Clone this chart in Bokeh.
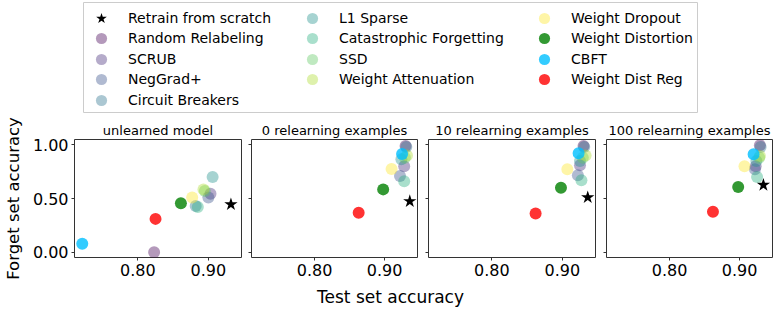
from bokeh.plotting import figure
from bokeh.models import Range1d, FixedTicker, Legend, LegendItem, PrintfTickFormatter
from bokeh.layouts import column, row
from bokeh.embed import file_html
from bokeh.resources import INLINE
from bokeh.palettes import Viridis256

# ---------------- data ----------------
methods = ["Retrain from scratch", "Random Relabeling", "SCRUB", "NegGrad+", "Circuit Breakers",
           "L1 Sparse", "Catastrophic Forgetting", "SSD", "Weight Attenuation", "Weight Dropout",
           "Weight Distortion", "CBFT", "Weight Dist Reg"]

panel_titles = ["unlearned model", "0 relearning examples", "10 relearning examples", "100 relearning examples"]

unlearned_x = [0.932, 0.823, 0.903, 0.900, 0.882, 0.906, 0.885, 0.895, 0.893, 0.877, 0.861, 0.721, 0.825]
unlearned_y = [0.445, 0.00, 0.545, 0.51, 0.43, 0.70, 0.42, 0.57, 0.585, 0.51, 0.455, 0.078, 0.31]

relearn0_x = [0.936, 0.930, 0.928, 0.922, 0.931, 0.924, 0.928, 0.929, 0.932, 0.910, 0.898, 0.925, 0.863]
relearn0_y = [0.474, 0.99, 0.80, 0.71, 0.98, 0.866, 0.66, 0.88, 0.90, 0.775, 0.585, 0.915, 0.367]

relearn10_x = [0.936, 0.930, 0.925, 0.922, 0.931, 0.925, 0.927, 0.929, 0.933, 0.907, 0.898, 0.923, 0.862]
relearn10_y = [0.51, 0.99, 0.81, 0.717, 0.98, 0.85, 0.67, 0.88, 0.90, 0.773, 0.60, 0.922, 0.36]

relearn100_x = [0.934, 0.929, 0.923, 0.922, 0.930, 0.924, 0.925, 0.928, 0.929, 0.907, 0.898, 0.920, 0.862]
relearn100_y = [0.626, 0.997, 0.80, 0.773, 0.98, 0.85, 0.70, 0.88, 0.897, 0.80, 0.607, 0.913, 0.377]

x_ticks = [0.80, 0.90]
y_ticks = [0.0, 0.5, 1.0]

panels_x = [unlearned_x, relearn0_x, relearn10_x, relearn100_x]
panels_y = [unlearned_y, relearn0_y, relearn10_y, relearn100_y]

# ---------------- styles ----------------
FONT = "DejaVu Sans"
vir = [Viridis256[min(int(i / 8 * 256), 255)] for i in range(9)]
colors = ["black"] + vir + ["green", "deepskyblue", "red"]
alphas = [1.0] + [0.4] * 9 + [0.8] * 3
markers = ["star"] + ["circle"] * 12
sizes = [14] + [12] * 12

FULL_W = 778

# ---------------- legend figure ----------------
leg = figure(width=FULL_W, height=113, output_backend="svg", toolbar_location=None,
             x_axis_location=None, y_axis_location=None,
             x_range=Range1d(0, 1), y_range=Range1d(0, 1),
             min_border_left=83, min_border_right=81, min_border_top=2, min_border_bottom=1)
leg.xgrid.visible = False
leg.ygrid.visible = False
leg.outline_line_color = "#cccccc"
leg.outline_line_width = 1

legend_col_sizes = [5, 4, 4]
legend_col_x = [4, 215, 447]        # px from the legend frame's left edge
ROW_TOP_Y = 80                      # px from frame bottom for first row's box bottom
ROW_PITCH = 20.4

nan = float("nan")
idx = 0
for c, ncol in enumerate(legend_col_sizes):
    for r in range(ncol):
        i = idx
        rr = leg.scatter(x=[nan], y=[nan], marker=markers[i], size=sizes[i], fill_color=colors[i],
                         fill_alpha=alphas[i], line_color=None)
        lg = Legend(items=[LegendItem(label=methods[i], renderers=[rr])],
                    location=(legend_col_x[c], ROW_TOP_Y - ROW_PITCH * r), orientation="vertical",
                    border_line_color=None, background_fill_alpha=0,
                    padding=0, margin=0, spacing=0,
                    glyph_width=28, glyph_height=28, label_height=28,
                    label_standoff=13, label_text_font=FONT, label_text_font_size="14px",
                    label_text_color="black")
        leg.add_layout(lg)
        idx += 1

# ---------------- panels ----------------
specs = [(246, 74, 5), (176, 5, 5), (178, 6, 5), (178, 6, 6)]
panels = []
for k in range(4):
    w, lft, rgt = specs[k]
    p = figure(width=w, height=169, output_backend="svg", toolbar_location=None,
               x_range=Range1d(0.710, 0.947), y_range=Range1d(-0.05, 1.05),
               min_border_left=lft, min_border_right=rgt, min_border_top=26, min_border_bottom=25,
               title=panel_titles[k])
    p.title.align = "center"
    p.title.text_font = FONT
    p.title.text_font_size = "13px"
    p.title.text_font_style = "normal"
    p.title.text_color = "black"
    p.title.standoff = 3
    p.xgrid.visible = False
    p.ygrid.visible = False
    p.outline_line_color = "#333333"
    p.outline_line_width = 1
    for ax in (p.xaxis, p.yaxis):
        ax.axis_line_color = None
        ax.major_tick_line_color = "#333333"
        ax.major_tick_out = 3
        ax.major_tick_in = 0
        ax.minor_tick_line_color = None
        ax.major_label_text_font = FONT
        ax.major_label_text_font_size = "16px"
        ax.major_label_text_color = "black"
        ax.major_label_standoff = 3
        ax.formatter = PrintfTickFormatter(format="%.2f")
    p.xaxis.ticker = FixedTicker(ticks=x_ticks)
    p.yaxis.ticker = FixedTicker(ticks=y_ticks)
    if k == 0:
        p.yaxis.axis_label = "Forget set accuracy"
        p.yaxis.axis_label_text_font = FONT
        p.yaxis.axis_label_text_font_size = "16.5px"
        p.yaxis.axis_label_text_font_style = "normal"
        p.yaxis.axis_label_text_color = "black"
        p.yaxis.axis_label_standoff = 7
    else:
        p.yaxis.major_label_overrides = {t: "" for t in y_ticks}
        p.yaxis.major_label_text_color = None
        p.yaxis.major_label_standoff = 0
    xs, ys = panels_x[k], panels_y[k]
    for i in range(len(methods)):
        p.scatter(x=[xs[i]], y=[ys[i]], marker=markers[i], size=sizes[i],
                  fill_color=colors[i], fill_alpha=alphas[i], line_color=None)
    panels.append(p)

# ---------------- shared x label ----------------
lab = figure(width=FULL_W, height=26, output_backend="svg", toolbar_location=None,
             x_axis_location=None, y_axis_location=None,
             x_range=Range1d(0, 1), y_range=Range1d(0, 1),
             min_border_left=0, min_border_right=0, min_border_top=0, min_border_bottom=0,
             title="Test set accuracy", title_location="below")
lab.outline_line_color = None
lab.xgrid.visible = False
lab.ygrid.visible = False
lab.title.align = "center"
lab.title.text_font = FONT
lab.title.text_font_size = "17px"
lab.title.text_font_style = "normal"
lab.title.text_color = "black"
lab.title.standoff = 3

root = column(leg, row(*panels, spacing=0), lab, spacing=0)

open("out.html", "w").write(file_html(root, INLINE))
